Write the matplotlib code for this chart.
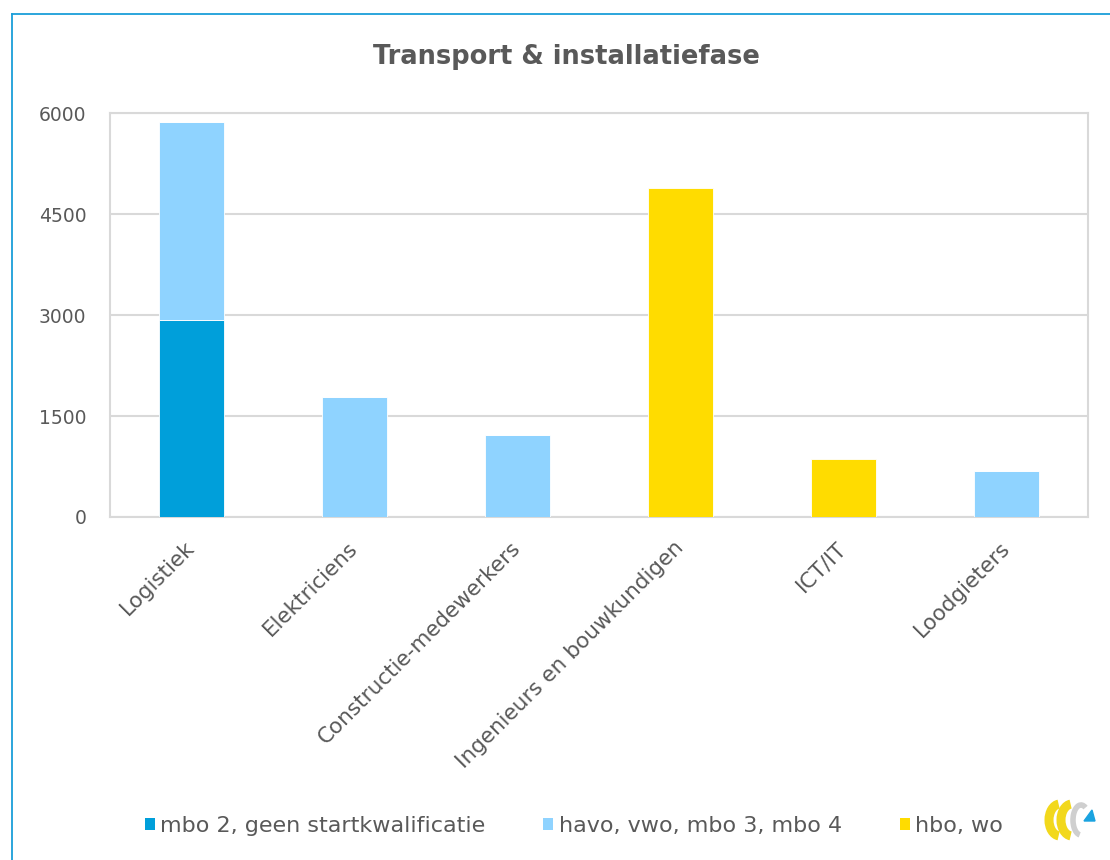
import matplotlib
matplotlib.use("Agg")
import matplotlib.pyplot as plt
from matplotlib.patches import Patch, Arc, Polygon
from matplotlib.lines import Line2D
import numpy as np

categories = ["Logistiek", "Elektriciens", "Constructie-medewerkers",
              "Ingenieurs en bouwkundigen", "ICT/IT", "Loodgieters"]
series_names = ["mbo 2, geen startkwalificatie", "havo, vwo, mbo 3, mbo 4", "hbo, wo"]
mbo2 = [2930, 0, 0, 0, 0, 0]
havo = [2940, 1780, 1220, 0, 0, 685]
hbo = [0, 0, 0, 4890, 865, 0]
yticks = [0, 1500, 3000, 4500, 6000]
title = "Transport & installatiefase"

colors = ["#009fda", "#8fd3ff", "#ffdc00"]
text_color = "#595959"
grid_color = "#d9d9d9"

plt.rcParams['font.family'] = ['DejaVu Sans']

fig = plt.figure(figsize=(11.1, 8.6), dpi=100)
W, H = 1110, 860
ax = fig.add_axes([110 / W, 1 - 517 / H, (1088 - 110) / W, (517 - 113.5) / H])

x = np.arange(len(categories))
bw = 0.4
bottom = np.zeros(len(categories))
for vals, c, name in zip([mbo2, havo, hbo], colors, series_names):
    ax.bar(x, vals, bw, bottom=bottom, color=c, edgecolor="white", linewidth=0.6,
           label=name, zorder=3)
    bottom += np.array(vals)

ax.set_xlim(-0.5, len(categories) - 0.5)
ax.set_ylim(0, 6000)
ax.set_yticks(yticks)
ax.set_yticklabels([str(v) for v in yticks], fontsize=13.5, color=text_color)
ax.yaxis.grid(True, color=grid_color, linewidth=1.5, zorder=0)
ax.set_axisbelow(True)
ax.tick_params(axis='both', length=0)
ax.tick_params(axis='y', pad=17)
ax.set_xticks(x)
ax.set_xticklabels(categories, rotation=45, ha='right', va='center',
                   rotation_mode='anchor', fontsize=15.5, color=text_color)
ax.tick_params(axis='x', pad=20)
for s in ax.spines.values():
    s.set_color(grid_color)
    s.set_linewidth(1.5)

fig.text(566 / W, 1 - 57 / H, title, ha='center', va='center', fontsize=18.5,
         fontweight='bold', color=text_color)

handles = [Patch(facecolor=c, edgecolor='none') for c in colors]
leg = fig.legend(handles, series_names, loc='center', bbox_to_anchor=(574 / W, 1 - 826 / H),
                 ncol=3, frameon=False, fontsize=16, handlelength=0.45, handleheight=0.45,
                 handletextpad=0.25, columnspacing=2.6, labelcolor=text_color)

# outer border (blue lines top and left)
border = "#1a9ed9"
fig.add_artist(Line2D([12 / W, 1.0], [1 - 14 / H, 1 - 14 / H], color=border, lw=1.3,
                      transform=fig.transFigure))
fig.add_artist(Line2D([12 / W, 12 / W], [1 - 14 / H, 0.0], color=border, lw=1.3,
                      transform=fig.transFigure))

# small logo in bottom-right (pixel coords, y downward)
lx0, lx1, ly0, ly1 = 1042, 1100, 798, 844
lax = fig.add_axes([lx0 / W, 1 - ly1 / H, (lx1 - lx0) / W, (ly1 - ly0) / H])
lax.set_xlim(lx0, lx1)
lax.set_ylim(ly1, ly0)
lax.axis('off')
lax.add_patch(Arc((1060, 820), 22, 32, theta1=95, theta2=265, color="#f2d81c", lw=6.5))
lax.add_patch(Arc((1072, 820), 22, 32, theta1=95, theta2=265, color="#f2d81c", lw=6.5))
lax.add_patch(Arc((1081, 820), 16, 30, theta1=95, theta2=290, color="#cfcfcf", lw=4))
lax.add_patch(Polygon([[1084, 821], [1095, 821], [1092, 810]], closed=True, color="#1aa3e0"))

fig.savefig("out.png", dpi=100, facecolor="white")
